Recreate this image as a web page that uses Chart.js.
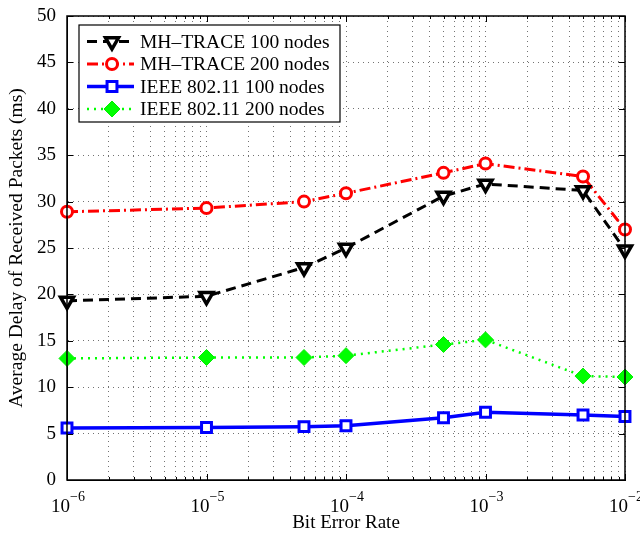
<!DOCTYPE html>
<html>
<head>
<meta charset="utf-8">
<script src="https://cdn.jsdelivr.net/npm/chart.js@4.4.1/dist/chart.umd.min.js"></script>
<style>
  html, body { margin: 0; padding: 0; background: #fff; }
  #wrap { width: 640px; height: 534px; }
</style>
</head>
<body>
<div id="wrap"><canvas id="delay-chart" width="640" height="534"></canvas></div>
<script>
// bit error rates where the points were measured
const berValues = [1e-6, 1e-5, 5e-5, 1e-4, 5e-4, 1e-3, 5e-3, 1e-2];

// average delay (ms)
const mhTrace100 = [19.3, 19.8, 22.9, 25.0, 30.6, 31.9, 31.2, 24.8];
const mhTrace200 = [28.9, 29.3, 30.0, 30.9, 33.1, 34.1, 32.7, 27.0];
const ieee100 = [5.6, 5.65, 5.75, 5.85, 6.7, 7.3, 7.0, 6.85];
const ieee200 = [13.1, 13.2, 13.2, 13.4, 14.6, 15.1, 11.2, 11.1];

const seriesNames = ["MH\u2013TRACE 100 nodes", "MH\u2013TRACE 200 nodes", "IEEE 802.11 100 nodes", "IEEE 802.11 200 nodes"];

// x axis decades and log minor steps
const decades = [-6, -5, -4, -3, -2];
const minorSteps = [1, 2, 3, 4, 5, 6, 7, 8, 9];

const FONT = "'Liberation Serif', 'Times New Roman', serif";

function toPoints(vals) {
    return vals.map((v, i) => ({ x: berValues[i], y: v }));
}

let xTicks = [];
decades.forEach((d, i) => {
    if (i < decades.length - 1) {
        minorSteps.forEach(m => xTicks.push(m * Math.pow(10, d)));
    } else {
        xTicks.push(Math.pow(10, d));
    }
});

// box, inner tick marks, x labels with exponents, legend in the corner
const decorPlugin = {
    id: "decor",
    afterDatasetsDraw(chart) {
        const ctx = chart.ctx;
        const a = chart.chartArea;
        const xs = chart.scales.x;
        const ys = chart.scales.y;
        ctx.save();
        ctx.strokeStyle = "#000";
        ctx.lineWidth = 1;
        ctx.setLineDash([]);
        ctx.beginPath();
        xTicks.forEach(v => {
            const px = Math.round(xs.getPixelForValue(v)) + 0.5;
            const major = Math.abs(Math.log10(v) - Math.round(Math.log10(v))) < 1e-9;
            const len = major ? 6 : 3;
            ctx.moveTo(px, a.bottom);
            ctx.lineTo(px, a.bottom - len);
            ctx.moveTo(px, a.top);
            ctx.lineTo(px, a.top + len);
        });
        for (let v = 0; v <= 50; v += 5) {
            const py = Math.round(ys.getPixelForValue(v)) + 0.5;
            ctx.moveTo(a.left, py);
            ctx.lineTo(a.left + 6, py);
            ctx.moveTo(a.right, py);
            ctx.lineTo(a.right - 6, py);
        }
        ctx.stroke();
        ctx.lineWidth = 1.5;
        ctx.strokeRect(a.left, a.top, a.right - a.left, a.bottom - a.top);

        // x tick labels 10^n
        ctx.fillStyle = "#000";
        ctx.textBaseline = "alphabetic";
        decades.forEach(d => {
            const px = xs.getPixelForValue(Math.pow(10, d));
            ctx.font = "19px " + FONT;
            ctx.textAlign = "right";
            ctx.fillText("10", px + 3, a.bottom + 32);
            ctx.font = "14px " + FONT;
            ctx.textAlign = "left";
            ctx.fillText("\u2212" + Math.abs(d), px + 3, a.bottom + 21);
        });

        // legend
        const lx = 79, ly = 25, lw = 261, lh = 97;
        ctx.fillStyle = "#fff";
        ctx.fillRect(lx, ly, lw, lh);
        ctx.strokeStyle = "#000";
        ctx.lineWidth = 1.2;
        ctx.strokeRect(lx, ly, lw, lh);
        chart.data.datasets.forEach((ds, i) => {
            const yy = ly + 16.5 + i * 22.5;
            ctx.save();
            ctx.strokeStyle = ds.borderColor;
            ctx.lineWidth = ds.borderWidth;
            ctx.setLineDash(ds.borderDash || []);
            ctx.beginPath();
            ctx.moveTo(lx + 8, yy);
            ctx.lineTo(lx + 55, yy);
            ctx.stroke();
            ctx.setLineDash([]);
            ctx.fillStyle = ds.pointBackgroundColor;
            ctx.strokeStyle = ds.pointBorderColor;
            ctx.lineWidth = ds.pointBorderWidth;
            Chart.helpers.drawPoint(ctx, {
                pointStyle: ds.pointStyle,
                rotation: ds.pointRotation || 0,
                radius: ds.pointRadius,
                borderWidth: ds.pointBorderWidth
            }, lx + 33, yy);
            ctx.restore();
            ctx.fillStyle = "#000";
            ctx.font = "19.5px " + FONT;
            ctx.textAlign = "left";
            ctx.textBaseline = "middle";
            ctx.fillText(ds.label, lx + 61, yy + 1);
        });
        ctx.restore();
    }
};

const ctx = document.getElementById("delay-chart").getContext("2d");
new Chart(ctx, {
    type: "line",
    data: {
        datasets: [
            {
                label: seriesNames[0],
                data: toPoints(mhTrace100),
                borderColor: "#000",
                borderWidth: 3,
                borderDash: [10, 6],
                pointStyle: "triangle",
                pointRotation: 180,
                pointRadius: 7.5,
                pointBackgroundColor: "#fff",
                pointBorderColor: "#000",
                pointBorderWidth: 3.5,
            },
            {
                label: seriesNames[1],
                data: toPoints(mhTrace200),
                borderColor: "#ff0000",
                borderWidth: 3,
                borderDash: [11, 4, 2, 4],
                pointStyle: "circle",
                pointRadius: 5.5,
                pointBackgroundColor: "#fff",
                pointBorderColor: "#ff0000",
                pointBorderWidth: 3,
            },
            {
                label: seriesNames[2],
                data: toPoints(ieee100),
                borderColor: "#0000ff",
                borderWidth: 3.5,
                borderDash: [],
                pointStyle: "rect",
                pointRadius: 7,
                pointBackgroundColor: "#fff",
                pointBorderColor: "#0000ff",
                pointBorderWidth: 3,
            },
            {
                label: seriesNames[3],
                data: toPoints(ieee200),
                borderColor: "#00ff00",
                borderWidth: 2.5,
                borderDash: [2, 5],
                pointStyle: "rectRot",
                pointRadius: 8,
                pointBackgroundColor: "#00ff00",
                pointBorderColor: "#00ee00",
                pointBorderWidth: 1,
            },
        ],
    },
    options: {
        responsive: false,
        animation: false,
        clip: false,
        layout: { padding: { top: 16, right: 15, left: 0, bottom: 0 } },
        plugins: {
            legend: { display: false },
            tooltip: { enabled: false },
        },
        elements: { line: { tension: 0 } },
        scales: {
            x: {
                type: "logarithmic",
                min: 1e-6,
                max: 1e-2,
                afterBuildTicks(scale) {
                    scale.ticks = xTicks.map(v => ({ value: v }));
                },
                afterFit(scale) {
                    scale.height = 54;
                    scale.paddingLeft = 0;
                    scale.paddingRight = 0;
                },
                ticks: { display: false },
                grid: { color: "rgba(0,0,0,0.55)", lineWidth: 1, drawTicks: false },
                border: { display: true, color: "#000", width: 1, dash: [1, 4] },
                title: {
                    display: true,
                    text: "Bit Error Rate",
                    color: "#000",
                    font: { family: FONT, size: 19 },
                    padding: { top: 0, bottom: 0 },
                    align: "center",
                },
            },
            y: {
                min: 0,
                max: 50,
                afterFit(scale) {
                    scale.width = 67;
                    scale.paddingTop = 0;
                    scale.paddingBottom = 0;
                },
                ticks: {
                    stepSize: 5,
                    color: "#000",
                    padding: 11,
                    font: { family: FONT, size: 19 },
                },
                grid: { color: "rgba(0,0,0,0.55)", lineWidth: 1, drawTicks: false },
                border: { display: true, color: "#000", width: 1, dash: [1, 4] },
                title: {
                    display: true,
                    text: "Average Delay of Received Packets (ms)",
                    color: "#000",
                    font: { family: FONT, size: 19.5 },
                    padding: { top: 5, bottom: 0 },
                },
            },
        },
    },
    plugins: [decorPlugin],
});
</script>
</body>
</html>
